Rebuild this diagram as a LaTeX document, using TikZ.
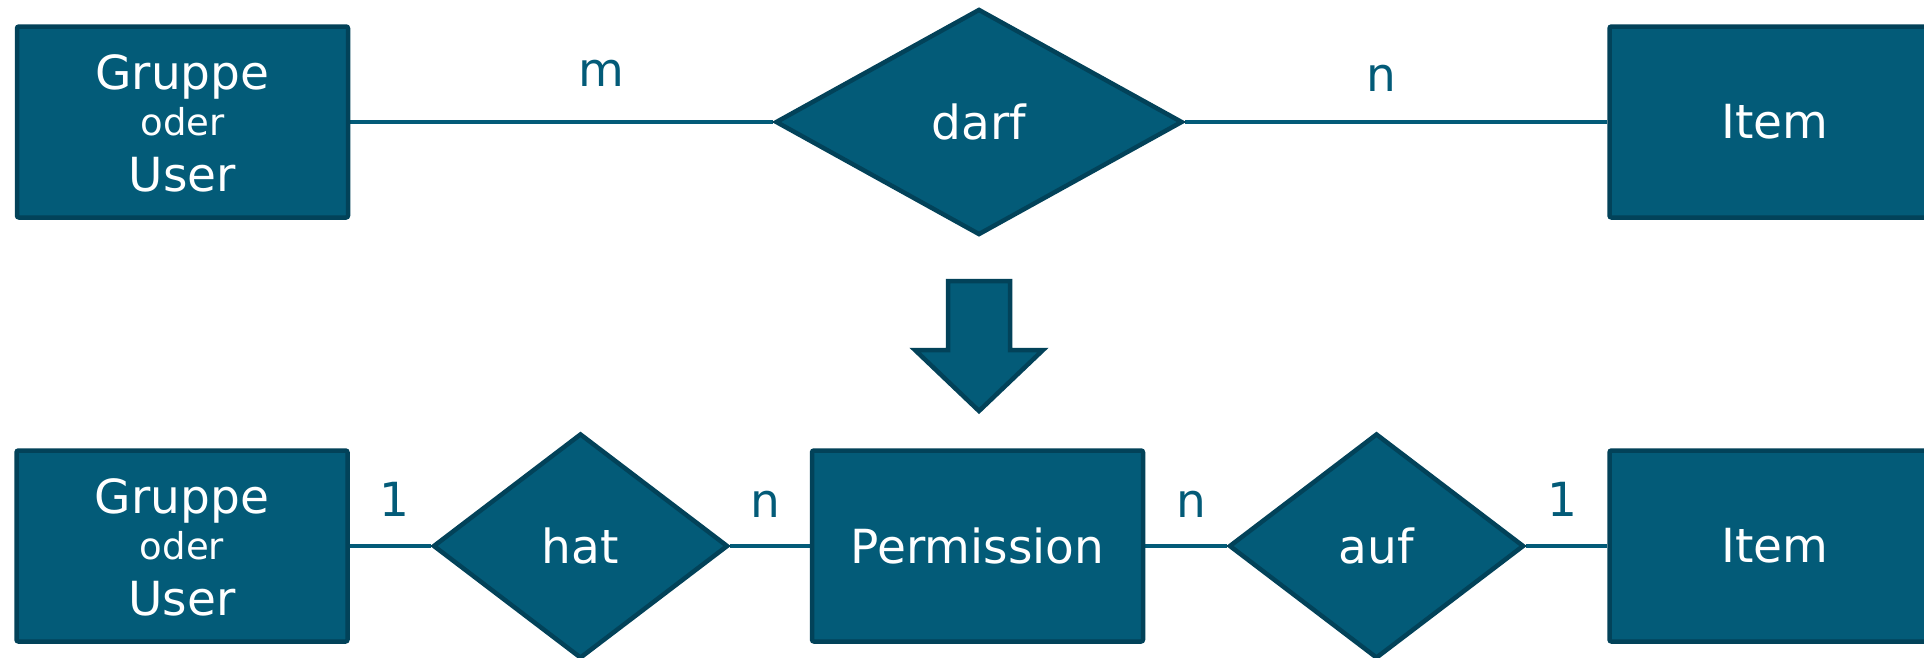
\documentclass[tikz,border=0pt]{standalone}
\usepackage{fontspec}
\setmainfont{DejaVu Sans}
\usetikzlibrary{shapes.geometric,backgrounds}
\definecolor{erfill}{HTML}{035B78}
\definecolor{erborder}{HTML}{024259}
\begin{document}
\begin{tikzpicture}[x=1pt,y=-1pt,
  entity/.style={draw=erborder, fill=erfill, line width=4.5pt, rounded corners=2pt,
    minimum width=331pt, minimum height=191pt, inner sep=0pt, text=white,
    font=\fontsize{47}{56}\selectfont},
  relation/.style={diamond, draw=erborder, fill=erfill, line width=4.5pt, inner sep=0pt,
    text=white, font=\fontsize{47}{56}\selectfont},
  conn/.style={draw=erfill, line width=4.5pt},
  card/.style={text=erfill, font=\fontsize{47}{56}\selectfont, anchor=base, inner sep=0pt},
  big/.style={text=white, font=\fontsize{47}{56}\selectfont, anchor=base, inner sep=0pt},
  small/.style={text=white, font=\fontsize{37}{44}\selectfont, anchor=base, inner sep=0pt},
  ]
\useasboundingbox (0,0) rectangle (1924,657);
\clip (0,0) rectangle (1924,657);

% top row
\node[entity] (e1) at (182.5,122) {};
\node[big] (e1a) at (182.5,89) {Gruppe};
\node[small] (e1b) at (182.5,135) {oder};
\node[big] (e1c) at (182.5,191) {User};
\node[relation, minimum width=407pt, minimum height=226pt] (r1) at (979,122) {darf};
\node[entity] (e2) at (1775,122) {Item};
\node[card] (c1) at (601,86) {m};
\node[card] (c2) at (1381,91) {n};

% arrow
\draw[draw=erborder, fill=erfill, line width=4.5pt]
  (948,281) -- (1010,281) -- (1010,350) -- (1043,350) -- (979,411)
  -- (915,350) -- (948,350) -- cycle;

% bottom row
\node[entity] (e3) at (182,546) {};
\node[big] (e3a) at (182,513) {Gruppe};
\node[small] (e3b) at (182,559) {oder};
\node[big] (e3c) at (182,615) {User};
\node[relation, minimum width=295pt, minimum height=225pt] (r2) at (580.5,546) {hat};
\node[entity] (e4) at (977.5,546) {Permission};
\node[relation, minimum width=295pt, minimum height=225pt] (r3) at (1376.5,546) {auf};
\node[entity] (e5) at (1775,546) {Item};
\node[card] (c3) at (394,516) {1};
\node[card] (c4) at (765,517) {n};
\node[card] (c5) at (1191,517) {n};
\node[card] (c6) at (1562,516) {1};

\begin{scope}[on background layer]
\fill[white] (0,0) rectangle (1924,657);
\draw[conn] (e1.east) -- (r1.west);
\draw[conn] (r1.east) -- (e2.west);
\draw[conn] (e3.east) -- (r2.west);
\draw[conn] (r2.east) -- (e4.west);
\draw[conn] (e4.east) -- (r3.west);
\draw[conn] (r3.east) -- (e5.west);
\end{scope}
\end{tikzpicture}
\end{document}
